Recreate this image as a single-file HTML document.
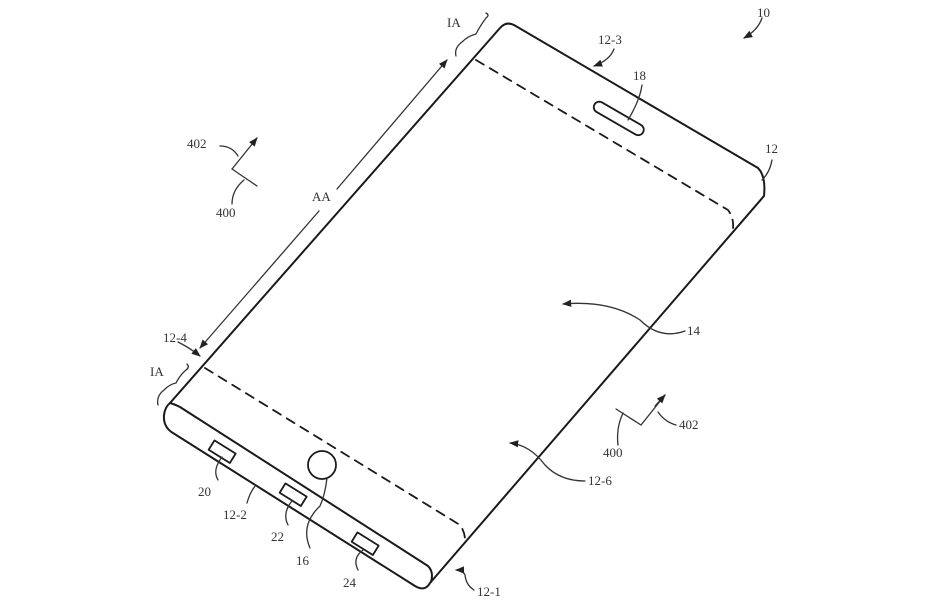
<!DOCTYPE html>
<html><head><meta charset="utf-8"><style>
html,body{margin:0;padding:0;background:#fff;}
svg{display:block}
text{font-family:"Liberation Serif",serif;font-size:13px;fill:#333;}
</style></head><body>
<svg width="939" height="602" viewBox="0 0 939 602" xmlns="http://www.w3.org/2000/svg">
<defs>
<marker id="ah" viewBox="0 0 10 10" refX="9" refY="5" markerWidth="7" markerHeight="7" orient="auto-start-reverse"><path d="M0,1 L10,5 L0,9 z" fill="#222"/></marker>
</defs>
<g fill="none" stroke="#1a1a1a" stroke-width="2" stroke-linecap="round" stroke-linejoin="round">
<path d="M170,403 L500,28 Q506,21 514,25 L758,168 Q766,176 764,196 L430,583 Q425,592 415,586 L173,433 Q163,427 164,415 Q165,407 170,403"/>
<path d="M170,403 Q174,404 180,407 L428,566 Q434,572 431,582"/>
<path d="M476,60 L728,210 Q734,218 733,228" stroke-dasharray="9,7" stroke-width="1.8"/>
<path d="M205,368 L460,525 Q465,532 465,540" stroke-dasharray="9,7" stroke-width="1.8"/>
<rect x="591" y="113" width="56" height="11" rx="5.5" transform="rotate(30 619 118)" stroke-width="1.8"/>
<circle cx="322" cy="465" r="14" stroke-width="1.8"/>
<rect x="210" y="446" width="25" height="11" transform="rotate(32 222 451)" stroke-width="1.8"/>
<rect x="281" y="489" width="25" height="11" transform="rotate(32 293 494)" stroke-width="1.8"/>
<rect x="353" y="538" width="25" height="11" transform="rotate(32 365 543)" stroke-width="1.8"/>
</g>
<g fill="none" stroke="#333" stroke-width="1.3" stroke-linecap="round">
<path d="M319,211 L200,348" marker-end="url(#ah)"/>
<path d="M337,189 L447,60" marker-end="url(#ah)"/>
<path d="M456,56 Q454,48 462,42 Q468,36 476,34 Q480,26 486,18 Q490,15 486,13"/>
<path d="M158,405 Q156,396 164,390 Q170,384 176,383 Q180,375 186,370 Q190,367 187,364"/>
<path d="M178,342 Q190,348 200,356" marker-end="url(#ah)"/>
<path d="M614,49 Q610,60 594,66" marker-end="url(#ah)"/>
<path d="M762,18 Q758,30 744,38" marker-end="url(#ah)"/>
<path d="M642,85 Q640,100 628,120"/>
<path d="M772,160 Q770,172 762,180"/>
<path d="M220,146 Q232,146 238,156"/>
<path d="M232,169 L257,138" marker-end="url(#ah)"/>
<path d="M232,169 L257,186"/>
<path d="M244,180 Q232,190 232,204"/>
<path d="M685,331 Q660,340 640,320 Q610,300 563,304" marker-end="url(#ah)"/>
<path d="M616,409 L641,425 L665,395" />
<path d="M655,406 L665,395" marker-end="url(#ah)"/>
<path d="M676,425 Q665,422 658,412"/>
<path d="M623,413 Q616,428 618,445"/>
<path d="M585,481 Q560,481 545,465 Q530,445 510,443" marker-end="url(#ah)"/>
<path d="M474,590 Q466,585 465,575 Q463,570 456,570" marker-end="url(#ah)"/>
<path d="M218,480 Q212,470 222,457"/>
<path d="M247,503 Q250,492 256,485"/>
<path d="M288,525 Q282,513 292,501"/>
<path d="M310,548 Q300,525 320,506 Q325,495 327,478"/>
<path d="M358,570 Q352,558 363,550"/>
</g>
<g>
<text x="447" y="27">IA</text>
<text x="598" y="44">12-3</text>
<text x="757" y="17">10</text>
<text x="633" y="80">18</text>
<text x="765" y="153">12</text>
<text x="187" y="148">402</text>
<text x="216" y="217">400</text>
<text x="312" y="201">AA</text>
<text x="163" y="342">12-4</text>
<text x="150" y="376">IA</text>
<text x="687" y="335">14</text>
<text x="603" y="457">400</text>
<text x="679" y="429">402</text>
<text x="588" y="485">12-6</text>
<text x="198" y="496">20</text>
<text x="223" y="519">12-2</text>
<text x="271" y="541">22</text>
<text x="296" y="565">16</text>
<text x="343" y="587">24</text>
<text x="477" y="596">12-1</text>
</g>
</svg>
</body></html>
